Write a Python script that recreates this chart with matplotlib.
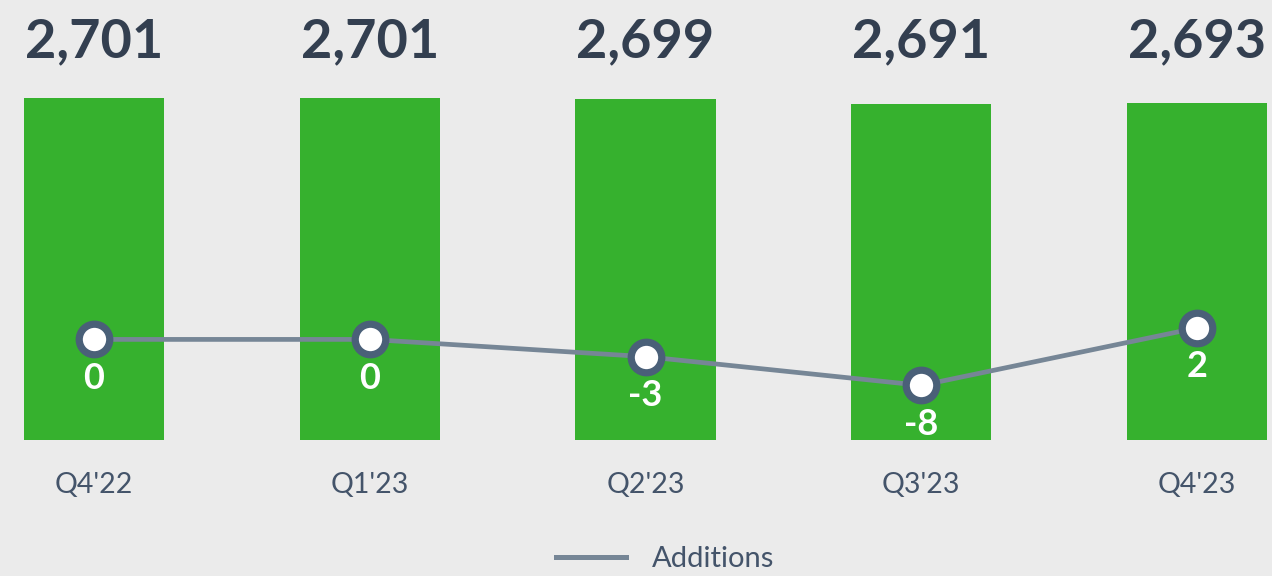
import matplotlib
matplotlib.use("Agg")
import matplotlib.pyplot as plt
import matplotlib.transforms as mtransforms
from matplotlib.lines import Line2D

categories = ["Q4'22", "Q1'23", "Q2'23", "Q3'23", "Q4'23"]
totals = [2701, 2701, 2699, 2691, 2693]
additions = [0, 0, -3, -8, 2]

BG = "#EBEBEB"
GREEN = "#36B12E"
DARK = "#333F50"
TICK = "#44546A"
LINE = "#768696"
RING = "#4A6078"

plt.rcParams['font.family'] = ['Lato', 'DejaVu Sans']

fig = plt.figure(figsize=(12.72, 5.76), dpi=100, facecolor=BG)
W, H = 1272, 576
ax = fig.add_axes([0, (H - 440) / H, 1, 342 / H])
ax.set_facecolor(BG)
x = list(range(len(categories)))
ax.bar(x, totals, width=0.508, color=GREEN, zorder=1)
ax.set_ylim(2131, 2701)
ax.set_xlim(-0.341, 4.272)
for s in ax.spines.values():
    s.set_visible(False)
ax.set_yticks([])
ax.set_xticks(x, categories)
ax.tick_params(axis='x', length=0, pad=23, labelsize=20.5, labelcolor=TICK)

trans = mtransforms.blended_transform_factory(ax.transData, ax.transAxes)
for xi, v in zip(x, totals):
    ax.text(xi, (440 - 57) / 342, f"{v:,}", transform=trans, ha='center',
            va='baseline', fontsize=39, fontweight='bold', color=DARK, clip_on=False)

ax2 = ax.twinx()
ax2.set_ylim(-17.5, 42.0)
ax2.set_yticks([])
for s in ax2.spines.values():
    s.set_visible(False)
ax2.plot(x, additions, color=LINE, lw=3.4, zorder=2, marker='o', ms=22.0,
         mew=5.2, mec=RING, mfc='white')
for xi, v in zip(x, additions):
    ax2.annotate(f"{v}", (xi, v), xytext=(0, -28), textcoords='offset points',
                 ha='center', va='center', fontsize=26, fontweight='bold', color='white')

handle = Line2D([0], [0], color=LINE, lw=3.6)
fig.legend([handle], ["Additions"], loc='center', bbox_to_anchor=(665 / W, 17 / H),
           frameon=False, fontsize=21, labelcolor=TICK, handlelength=2.4,
           handletextpad=0.9, borderpad=0.1)

fig.savefig("out.png", dpi=100, facecolor=BG)
